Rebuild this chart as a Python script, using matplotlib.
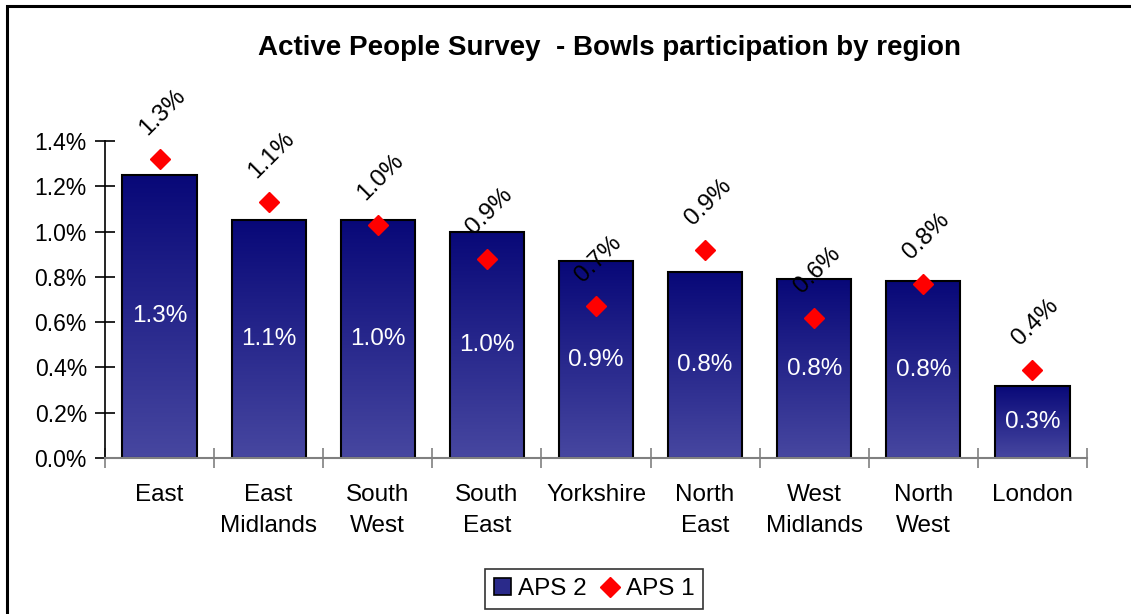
import matplotlib
matplotlib.use("Agg")
import matplotlib.pyplot as plt
import numpy as np
from matplotlib.colors import LinearSegmentedColormap
from matplotlib.patches import Rectangle, Patch
from matplotlib.lines import Line2D

plt.rcParams['font.family'] = ['Liberation Sans', 'DejaVu Sans']

regions = ["East", "East\nMidlands", "South\nWest", "South\nEast", "Yorkshire",
           "North\nEast", "West\nMidlands", "North\nWest", "London"]
aps2 = [1.25, 1.05, 1.05, 1.00, 0.87, 0.82, 0.79, 0.78, 0.32]
aps2_labels = ["1.3%", "1.1%", "1.0%", "1.0%", "0.9%", "0.8%", "0.8%", "0.8%", "0.3%"]
aps1 = [1.32, 1.13, 1.03, 0.88, 0.67, 0.92, 0.62, 0.77, 0.39]
aps1_labels = ["1.3%", "1.1%", "1.0%", "0.9%", "0.7%", "0.9%", "0.6%", "0.8%", "0.4%"]
yticks = [0.0, 0.2, 0.4, 0.6, 0.8, 1.0, 1.2, 1.4]

W, H = 1131, 614
fig = plt.figure(figsize=(W / 100, H / 100), dpi=100)
ax = fig.add_axes([105 / W, 1 - 458 / H, (1087 - 105) / W, (458 - 141) / H])

x = np.arange(len(regions))
bars = ax.bar(x, aps2, width=0.68, color='none', edgecolor='black', linewidth=1.5, zorder=3)

cmap = LinearSegmentedColormap.from_list("grad", ["#4747a0", "#080878"])
grad = np.linspace(0, 1, 256).reshape(-1, 1)
for b in bars:
    x0, w, h = b.get_x(), b.get_width(), b.get_height()
    im = ax.imshow(grad, cmap=cmap, origin='lower', aspect='auto',
                   extent=[x0, x0 + w, 0, h], zorder=2, interpolation='bilinear')
    im.set_clip_path(b)

for xi, v, lab in zip(x, aps2, aps2_labels):
    ax.text(xi, v / 2, lab, ha='center', va='center', color='white', fontsize=17.5, zorder=5)

ax.plot(x, aps1, linestyle='none', marker='D', color='#ff0000', markersize=10, zorder=6,
        clip_on=False)
for xi, v, lab in zip(x, aps1, aps1_labels):
    ax.annotate(lab, (xi, v), xytext=(2, 34), textcoords='offset points',
                ha='center', va='center', rotation=45, fontsize=17.5, color='black',
                annotation_clip=False)

ax.set_xlim(-0.5, len(regions) - 0.5)
ax.set_ylim(0, 1.4)
ax.set_yticks(yticks)
ax.set_yticklabels([f"{t:.1f}%" for t in yticks], fontsize=16.5)
ax.tick_params(axis='y', direction='inout', length=14, width=1.2, color='black', pad=6)

ax.set_xticks(x)
ax.set_xticklabels(regions, fontsize=17.5, linespacing=1.5)
ax.set_xticks(np.arange(-0.5, len(regions), 1.0), minor=True)
ax.tick_params(axis='x', which='major', length=0, pad=19)
ax.tick_params(axis='x', which='minor', direction='inout', length=14, width=1.2, color='#808080')

for s in ['top', 'right']:
    ax.spines[s].set_visible(False)
ax.spines['left'].set_color('black')
ax.spines['left'].set_linewidth(1.2)
ax.spines['bottom'].set_color('#808080')
ax.spines['bottom'].set_linewidth(1.5)
ax.spines['bottom'].set_zorder(4)

fig.text(610 / W, 1 - 48 / H, "Active People Survey  - Bowls participation by region",
         ha='center', va='center', fontsize=20, fontweight='bold')

handles = [Patch(facecolor='#2a2a8a', edgecolor='black', linewidth=1.2),
           Line2D([], [], linestyle='none', marker='D', color='#ff0000', markersize=10)]
leg = fig.legend(handles, ["APS 2", "APS 1"], loc='center', ncol=2,
                 bbox_to_anchor=(594 / W, 1 - 589 / H), fontsize=17.5, frameon=True,
                 fancybox=False, edgecolor='black', handlelength=0.7, handletextpad=0.3,
                 columnspacing=0.6, borderpad=0.35, borderaxespad=0)
leg.get_frame().set_linewidth(1.2)

fig.add_artist(Rectangle((7 / W, -0.1), 1.2, 1.1 - 6.5 / H, transform=fig.transFigure,
                         fill=False, edgecolor='black', linewidth=2.2))

fig.savefig("out.png", dpi=100)
